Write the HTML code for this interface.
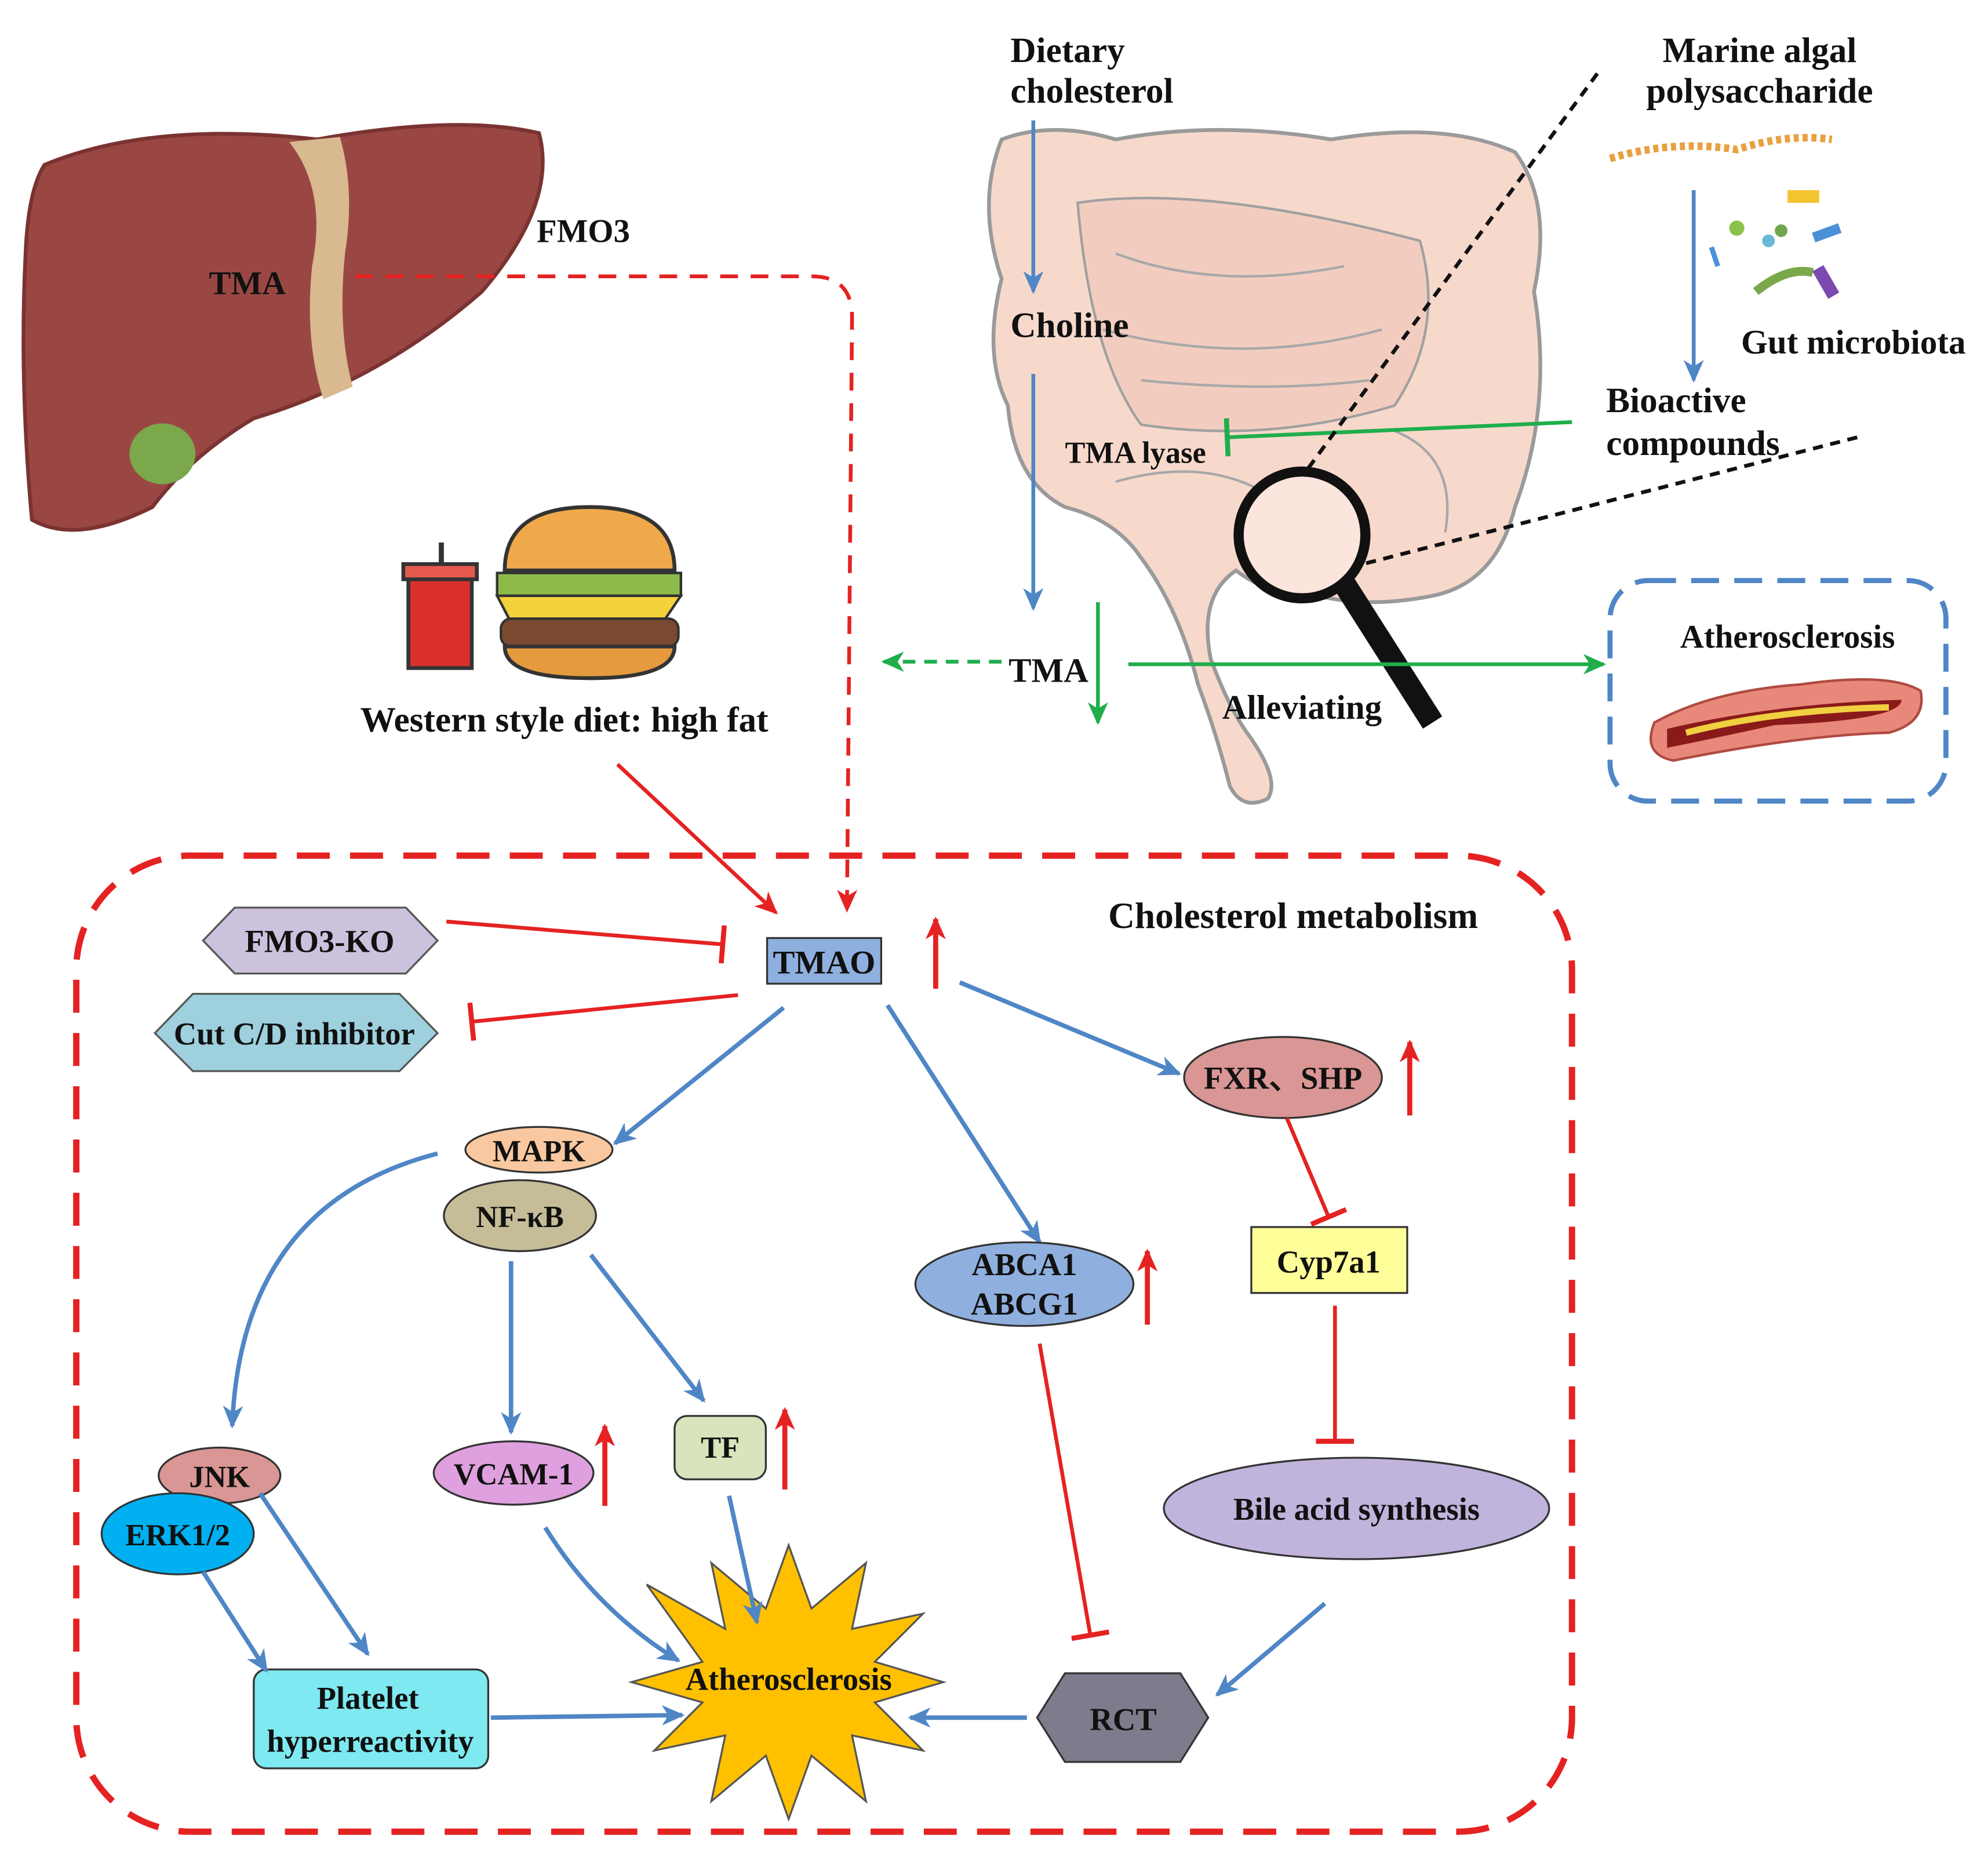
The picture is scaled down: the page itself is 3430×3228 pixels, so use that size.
<!DOCTYPE html>
<html><head><meta charset="utf-8"><style>
html,body{margin:0;padding:0;background:#fff}
svg{display:block}
text{font-family:"Liberation Serif",serif;font-weight:bold;fill:#111}
</style></head><body>
<svg width="3430" height="3228" viewBox="0 0 1568 1476" xmlns="http://www.w3.org/2000/svg">
<defs>
<marker id="abB" markerWidth="20" markerHeight="20" refX="16" refY="10" orient="auto" markerUnits="userSpaceOnUse"><path d="M0,2 L18,10 L0,18 L5,10 z" fill="#4f86c6"/></marker>
<marker id="arR" markerWidth="20" markerHeight="20" refX="16" refY="10" orient="auto" markerUnits="userSpaceOnUse"><path d="M0,2 L18,10 L0,18 L5,10 z" fill="#e52222"/></marker>
<marker id="arG" markerWidth="20" markerHeight="20" refX="16" refY="10" orient="auto" markerUnits="userSpaceOnUse"><path d="M0,2 L18,10 L0,18 L5,10 z" fill="#1fae4b"/></marker>
<marker id="tR" markerWidth="4" markerHeight="30" refX="2" refY="15" orient="auto" markerUnits="userSpaceOnUse"><rect x="0" y="0" width="4" height="30" fill="#e52222"/></marker>
<marker id="tG" markerWidth="4" markerHeight="30" refX="2" refY="15" orient="auto" markerUnits="userSpaceOnUse"><rect x="0" y="0" width="4" height="30" fill="#1fae4b"/></marker>
</defs>

<!-- Liver -->
<path d="M35,130 Q120,95 250,110 Q360,90 425,105 Q440,160 380,230 Q300,300 200,330 Q150,360 120,400 Q60,430 25,410 Q15,300 20,200 Q22,150 35,130 z" fill="#9a4744" stroke="#7a3331" stroke-width="3"/>
<path d="M228,112 Q258,150 246,210 Q240,270 255,315 L278,305 Q266,260 272,200 Q280,150 268,108 z" fill="#d9b98f"/>
<ellipse cx="128" cy="358" rx="26" ry="24" fill="#7aa84a"/>
<text x="195" y="232" font-size="26" text-anchor="middle">TMA</text>
<text x="460" y="191" font-size="26" text-anchor="middle">FMO3</text>
<path d="M280,218 L640,218 Q672,218 672,250 L668,718" fill="none" stroke="#e52222" stroke-width="3" stroke-dasharray="14,10" marker-end="url(#arR)"/>

<!-- Food -->
<rect x="322" y="452" width="50" height="75" fill="#d9302c" stroke="#333" stroke-width="3"/>
<rect x="318" y="445" width="58" height="12" fill="#e65a4e" stroke="#333" stroke-width="3"/>
<line x1="348" y1="445" x2="348" y2="428" stroke="#333" stroke-width="4"/>
<path d="M398,450 Q398,400 465,400 Q532,400 532,450 z" fill="#f0a94a" stroke="#333" stroke-width="3"/>
<rect x="392" y="452" width="145" height="18" fill="#8dbb4a" stroke="#333" stroke-width="2"/>
<path d="M392,470 L537,470 L520,495 L405,495 z" fill="#f4d23c" stroke="#333" stroke-width="2"/>
<rect x="395" y="488" width="140" height="22" rx="8" fill="#7a4a30" stroke="#333" stroke-width="2"/>
<path d="M398,510 L532,510 Q532,535 465,535 Q398,535 398,510 z" fill="#e59a3e" stroke="#333" stroke-width="3"/>
<text x="445" y="577" font-size="28" text-anchor="middle">Western style diet: high fat</text>
<line x1="487" y1="603" x2="612" y2="720" stroke="#e52222" stroke-width="3" marker-end="url(#arR)"/>

<!-- Intestine -->
<path d="M790,110 Q830,95 880,110 Q960,95 1050,110 Q1140,95 1195,120 Q1225,160 1210,230 Q1225,320 1195,400 Q1180,460 1130,470 Q1080,480 1040,470 Q1000,470 975,450 Q945,470 955,520 Q970,560 985,580 Q1010,615 1000,630 Q980,640 970,620 Q960,580 945,540 Q930,480 900,440 Q880,410 840,400 Q800,380 795,320 Q775,280 790,220 Q770,160 790,110 z" fill="#f7d9cc" stroke="#9a9a9a" stroke-width="3"/>
<path d="M850,160 Q950,145 1120,190 Q1140,260 1100,320 Q1000,350 900,335 Q860,280 850,160 z" fill="#f2cdbf" stroke="#a0a0a0" stroke-width="2"/>
<path d="M880,200 Q960,230 1060,210 M870,260 Q980,290 1090,260 M900,300 Q1000,310 1080,300 M880,380 Q950,360 1000,390 M1100,340 Q1150,360 1140,420" fill="none" stroke="#a8a8a8" stroke-width="2"/>
<text x="797" y="49" font-size="28">Dietary</text>
<text x="797" y="81" font-size="28">cholesterol</text>
<line x1="815" y1="95" x2="815" y2="230" stroke="#4f86c6" stroke-width="3" marker-end="url(#abB)"/>
<text x="797" y="266" font-size="28">Choline</text>
<line x1="815" y1="295" x2="815" y2="480" stroke="#4f86c6" stroke-width="3" marker-end="url(#abB)"/>
<text x="840" y="365" font-size="24">TMA lyase</text>
<line x1="1240" y1="333" x2="968" y2="345" stroke="#1fae4b" stroke-width="3" marker-end="url(#tG)"/>

<!-- magnifier -->
<line x1="1260" y1="58" x2="1030" y2="372" stroke="#111" stroke-width="3" stroke-dasharray="8,6"/>
<line x1="1465" y1="345" x2="1075" y2="445" stroke="#111" stroke-width="3" stroke-dasharray="8,6"/>
<line x1="1060" y1="460" x2="1130" y2="570" stroke="#111" stroke-width="18"/>
<circle cx="1027" cy="422" r="50" fill="#fbe5dc" stroke="#111" stroke-width="8"/>

<!-- algae -->
<text x="1388" y="49" font-size="28" text-anchor="middle">Marine algal</text>
<text x="1388" y="81" font-size="28" text-anchor="middle">polysaccharide</text>
<path d="M1270,125 Q1320,110 1370,118 Q1410,105 1445,110" fill="none" stroke="#e8a040" stroke-width="6" stroke-dasharray="4,3"/>
<line x1="1336" y1="150" x2="1336" y2="300" stroke="#4f86c6" stroke-width="3" marker-end="url(#abB)"/>
<circle cx="1370" cy="180" r="6" fill="#8bc34a"/><rect x="1410" y="150" width="25" height="10" fill="#f4c430"/>
<rect x="1430" y="180" width="22" height="8" fill="#4a90d9" transform="rotate(-20 1440 184)"/>
<circle cx="1395" cy="190" r="5" fill="#6ab7d8"/><circle cx="1405" cy="182" r="5" fill="#6fa84c"/>
<path d="M1385,230 Q1410,210 1430,215" stroke="#7aa84a" stroke-width="7" fill="none"/>
<rect x="1435" y="210" width="10" height="25" fill="#7a4ab0" transform="rotate(-30 1440 222)"/>
<line x1="1350" y1="195" x2="1355" y2="210" stroke="#4a90d9" stroke-width="4"/>
<text x="1462" y="279" font-size="27" text-anchor="middle">Gut microbiota</text>
<text x="1267" y="325" font-size="28">Bioactive</text>
<text x="1267" y="359" font-size="28">compounds</text>

<!-- TMA -->
<text x="827" y="538" font-size="27" text-anchor="middle">TMA</text>
<line x1="790" y1="522" x2="697" y2="522" stroke="#1fae4b" stroke-width="3" stroke-dasharray="10,7" marker-end="url(#arG)"/>
<line x1="866" y1="475" x2="866" y2="570" stroke="#1fae4b" stroke-width="3" marker-end="url(#arG)"/>
<line x1="890" y1="524" x2="1265" y2="524" stroke="#1fae4b" stroke-width="3" marker-end="url(#arG)"/>
<text x="1027" y="567" font-size="27" text-anchor="middle">Alleviating</text>

<!-- Atherosclerosis box -->
<rect x="1270" y="458" width="265" height="174" rx="30" fill="none" stroke="#4f86c6" stroke-width="4" stroke-dasharray="22,12"/>
<text x="1410" y="511" font-size="26" text-anchor="middle">Atherosclerosis</text>
<path d="M1305,570 Q1350,545 1420,540 Q1490,530 1515,545 Q1520,570 1490,578 Q1420,580 1320,600 Q1295,595 1305,570 z" fill="#e8887a" stroke="#b04a40" stroke-width="2"/>
<path d="M1315,575 Q1400,555 1500,552 Q1500,568 1400,572 Q1340,585 1315,590 z" fill="#8a1a1a"/>
<path d="M1330,578 Q1400,560 1490,558" stroke="#f0d040" stroke-width="5" fill="none"/>

<!-- Big red dashed box -->
<rect x="60" y="675" width="1180" height="770" rx="90" fill="none" stroke="#e52222" stroke-width="5" stroke-dasharray="26,16"/>
<text x="1020" y="732" font-size="29" text-anchor="middle">Cholesterol metabolism</text>

<!-- TMAO -->
<rect x="605" y="740" width="90" height="36" fill="#8fb0de" stroke="#333" stroke-width="1.5"/>
<text x="650" y="768" font-size="26" text-anchor="middle">TMAO</text>
<line x1="738" y1="780" x2="738" y2="725" stroke="#e52222" stroke-width="4" marker-end="url(#arR)"/>

<polygon points="160,742 185,716 320,716 345,742 320,768 185,768" fill="#ccc2de" stroke="#555" stroke-width="1.5"/>
<text x="252" y="751" font-size="25" text-anchor="middle">FMO3-KO</text>
<polygon points="122,815 152,784 315,784 345,815 315,845 152,845" fill="#9ed0de" stroke="#555" stroke-width="1.5"/>
<text x="232" y="824" font-size="25" text-anchor="middle">Cut C/D inhibitor</text>
<line x1="352" y1="727" x2="570" y2="745" stroke="#e52222" stroke-width="3" marker-end="url(#tR)"/>
<line x1="582" y1="785" x2="372" y2="806" stroke="#e52222" stroke-width="3" marker-end="url(#tR)"/>

<line x1="618" y1="795" x2="485" y2="902" stroke="#4f86c6" stroke-width="3.5" marker-end="url(#abB)"/>
<line x1="700" y1="793" x2="820" y2="980" stroke="#4f86c6" stroke-width="3.5" marker-end="url(#abB)"/>
<line x1="757" y1="775" x2="930" y2="847" stroke="#4f86c6" stroke-width="3.5" marker-end="url(#abB)"/>

<ellipse cx="1012" cy="850" rx="78" ry="32" fill="#d99694" stroke="#333" stroke-width="1.5"/>
<text x="1012" y="859" font-size="25" text-anchor="middle" font-family="Liberation Serif, Noto Serif CJK SC, serif">FXR、SHP</text>
<line x1="1112" y1="880" x2="1112" y2="822" stroke="#e52222" stroke-width="4" marker-end="url(#arR)"/>
<line x1="1015" y1="882" x2="1048" y2="960" stroke="#e52222" stroke-width="3" marker-end="url(#tR)"/>
<rect x="987" y="968" width="123" height="52" fill="#ffff99" stroke="#333" stroke-width="1.5"/>
<text x="1048" y="1004" font-size="25" text-anchor="middle">Cyp7a1</text>
<line x1="1053" y1="1030" x2="1053" y2="1137" stroke="#e52222" stroke-width="3" marker-end="url(#tR)"/>
<ellipse cx="1070" cy="1190" rx="152" ry="40" fill="#c0b3dc" stroke="#333" stroke-width="1.5"/>
<text x="1070" y="1199" font-size="25" text-anchor="middle">Bile acid synthesis</text>

<ellipse cx="808" cy="1013" rx="86" ry="33" fill="#8fb0de" stroke="#333" stroke-width="1.5"/>
<text x="808" y="1006" font-size="25" text-anchor="middle">ABCA1</text>
<text x="808" y="1037" font-size="25" text-anchor="middle">ABCG1</text>
<line x1="905" y1="1045" x2="905" y2="987" stroke="#e52222" stroke-width="4" marker-end="url(#arR)"/>
<line x1="820" y1="1060" x2="860" y2="1290" stroke="#e52222" stroke-width="3" marker-end="url(#tR)"/>

<ellipse cx="425" cy="907" rx="58" ry="18" fill="#f9c8a0" stroke="#333" stroke-width="1.5"/>
<text x="425" y="916" font-size="24" text-anchor="middle">MAPK</text>
<ellipse cx="410" cy="959" rx="60" ry="28" fill="#c4bd97" stroke="#333" stroke-width="1.5"/>
<text x="410" y="968" font-size="24" text-anchor="middle">NF-κB</text>

<path d="M345,910 Q190,950 183,1125" fill="none" stroke="#4f86c6" stroke-width="3.5" marker-end="url(#abB)"/>
<line x1="403" y1="995" x2="403" y2="1130" stroke="#4f86c6" stroke-width="3.5" marker-end="url(#abB)"/>
<line x1="466" y1="990" x2="555" y2="1105" stroke="#4f86c6" stroke-width="3.5" marker-end="url(#abB)"/>

<ellipse cx="173" cy="1164" rx="48" ry="22" fill="#d99694" stroke="#333" stroke-width="1.5"/>
<text x="173" y="1173" font-size="24" text-anchor="middle">JNK</text>
<ellipse cx="140" cy="1210" rx="60" ry="32" fill="#00b0f0" stroke="#333" stroke-width="1.5"/>
<text x="140" y="1219" font-size="24" text-anchor="middle">ERK1/2</text>

<ellipse cx="405" cy="1162" rx="63" ry="25" fill="#dfa0df" stroke="#333" stroke-width="1.5"/>
<text x="405" y="1171" font-size="24" text-anchor="middle">VCAM-1</text>
<line x1="477" y1="1188" x2="477" y2="1125" stroke="#e52222" stroke-width="4" marker-end="url(#arR)"/>
<rect x="532" y="1117" width="72" height="50" rx="10" fill="#d7e4bc" stroke="#333" stroke-width="1.5"/>
<text x="568" y="1150" font-size="24" text-anchor="middle">TF</text>
<line x1="619" y1="1175" x2="619" y2="1112" stroke="#e52222" stroke-width="4" marker-end="url(#arR)"/>

<rect x="200" y="1317" width="185" height="78" rx="10" fill="#7ee9f0" stroke="#333" stroke-width="1.5"/>
<text x="290" y="1348" font-size="25" text-anchor="middle">Platelet</text>
<text x="292" y="1382" font-size="25" text-anchor="middle">hyperreactivity</text>

<polygon points="744,1327 690,1311 728,1273 672,1285 683,1233 640,1269 622,1219 604,1269 561,1233 572,1285 510,1250 554,1311 498,1327 554,1343 516,1381 572,1369 561,1421 604,1385 622,1435 640,1385 683,1421 672,1369 728,1381 690,1343" fill="#ffc000" stroke="#555" stroke-width="1.5"/>
<text x="622" y="1333" font-size="25" text-anchor="middle">Atherosclerosis</text>

<polygon points="818,1355 840,1320 931,1320 953,1355 931,1390 840,1390" fill="#7f7a8c" stroke="#333" stroke-width="1.5"/>
<text x="886" y="1365" font-size="25" text-anchor="middle" fill="#333">RCT</text>

<line x1="160" y1="1240" x2="210" y2="1318" stroke="#4f86c6" stroke-width="3.5" marker-end="url(#abB)"/>
<line x1="205" y1="1178" x2="290" y2="1305" stroke="#4f86c6" stroke-width="3.5" marker-end="url(#abB)"/>
<line x1="387" y1="1355" x2="538" y2="1353" stroke="#4f86c6" stroke-width="3.5" marker-end="url(#abB)"/>
<path d="M430,1205 Q470,1270 535,1310" fill="none" stroke="#4f86c6" stroke-width="3.5" marker-end="url(#abB)"/>
<line x1="575" y1="1180" x2="597" y2="1280" stroke="#4f86c6" stroke-width="3.5" marker-end="url(#abB)"/>
<line x1="810" y1="1355" x2="718" y2="1355" stroke="#4f86c6" stroke-width="3.5" marker-end="url(#abB)"/>
<line x1="1045" y1="1265" x2="960" y2="1337" stroke="#4f86c6" stroke-width="3.5" marker-end="url(#abB)"/>
</svg>
</body></html>
